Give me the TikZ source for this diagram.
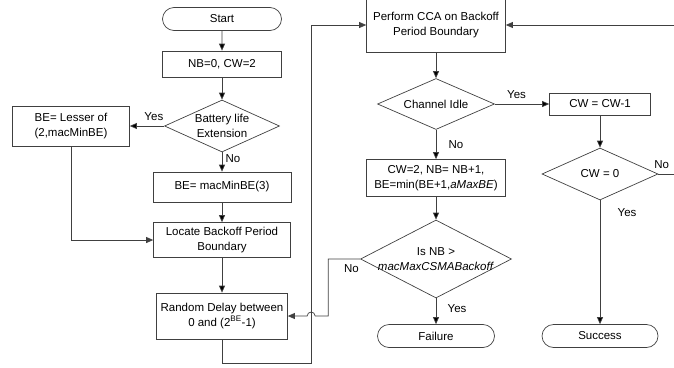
\documentclass[tikz,border=0pt]{standalone}
\usepackage{fontspec}
\setmainfont{Liberation Sans}
\usetikzlibrary{positioning,calc,shapes.geometric,shapes.misc,arrows.meta}

\definecolor{linegray}{HTML}{404040}
\tikzset{
  term/.style={rounded rectangle,draw=linegray,minimum width=117pt,minimum height=23pt,inner sep=0pt},
  proc/.style={rectangle,draw=linegray,align=center,inner sep=0pt},
  dec/.style={diamond,draw=linegray,inner sep=0pt},
}

\begin{document}
\begin{tikzpicture}[on grid,line width=0.7pt,>={Triangle[length=7pt,width=6pt]},
    font=\fontsize{11.5}{14.5}\selectfont]
   \useasboundingbox (0,0) rectangle (674pt,-367pt);
   % left column
   \node[term,minimum width=119pt] (start) at (222pt,-19pt) {Start};
   \node[proc,minimum width=119pt,minimum height=26pt] (init) [below=45pt of start] {NB=0, CW=2};
   \node[dec,minimum width=115pt,minimum height=52pt,
         label={[align=center]center:Battery life\\Extension}] (battery) [below=62pt of init] {};
   \node[proc,minimum width=117pt,minimum height=40pt] (lesser) [left=151pt of battery] {BE= Lesser of\\(2,macMinBE)};
   \node[proc,minimum width=138pt,minimum height=30pt] (minbe) [below=61pt of battery] {BE= macMinBE(3)};
   \node[proc,minimum width=137pt,minimum height=35pt] (locate) [below=53pt of minbe] {Locate Backoff Period\\Boundary};
   \node[proc,minimum width=131pt,minimum height=46pt] (random) [below=76pt of locate] {Random Delay between\\0 and (2\textsuperscript{BE}-1)};
   % middle column
   \node[proc,minimum width=139pt,minimum height=54pt] (cca) [below right=6pt and 214pt of start] {Perform CCA on Backoff\\Period Boundary};
   \node[dec,minimum width=117pt,minimum height=51pt,
         label={center:Channel Idle}] (idle) [below=79pt of cca] {};
   \node[proc,minimum width=139pt,minimum height=37pt] (cw2) [below=74pt of idle] {CW=2, NB= NB+1,\\BE=min(BE+1,\textit{aMaxBE})};
   \node[dec,minimum width=151pt,minimum height=78pt,
         label={[align=center]center:Is NB >\\\textit{macMaxCSMABackoff}}] (isnb) [below=81pt of cw2] {};
   \node[term] (failure) [below=77pt of isnb] {Failure};
   % right column
   \node[proc,minimum width=101pt,minimum height=22pt] (cwdec) [right=164pt of idle] {CW = CW-1};
   \node[dec,minimum width=116pt,minimum height=52pt,
         label={center:CW = 0}] (cwzero) [below=70pt of cwdec] {};
   \node[term,minimum width=116pt] (success) [below=162pt of cwzero] {Success};
   \coordinate (rail) at ([xshift=-55pt]cca.west);

   \path[->,draw=linegray]
    (start)   edge                               (init)
    (init)    edge                               (battery)
    (battery) edge node[above=2pt,pos=0.3] {Yes} (lesser)
    (battery) edge node[right,pos=0.3] {No}      (minbe)
    (minbe)   edge                               (locate)
    (locate)  edge                               (random)
    (cca)     edge                               (idle)
    (idle)    edge node[above=2pt,pos=0.4] {Yes} (cwdec)
    (idle)    edge node[right=9pt] {No}          (cw2)
    (cw2)     edge                               (isnb)
    (isnb)    edge node[right=8pt,pos=0.4] {Yes} (failure)
    (cwdec)   edge                               (cwzero)
    (cwzero)  edge node[right=14pt,pos=0.1] {Yes} (success)
    ;
   \draw[->,draw=linegray] (lesser) |- (locate);
   \draw[->,draw=linegray] (random.south) -- ++(0,-24pt) -| (rail) -- (cca);
   \draw[->,draw=linegray] (isnb.west) -- ++(-32pt,0) node[below=2pt,pos=0.27] {No}
      |- ($(rail |- random.east)+(4pt,0)$) arc[start angle=0,end angle=180,radius=4pt] -- (random.east);
   \draw[->,draw=linegray] (cwzero.east) -- ++(22pt,0) node[above=2pt,pos=0.15] {No} |- (cca.east);
\end{tikzpicture}
\end{document}
